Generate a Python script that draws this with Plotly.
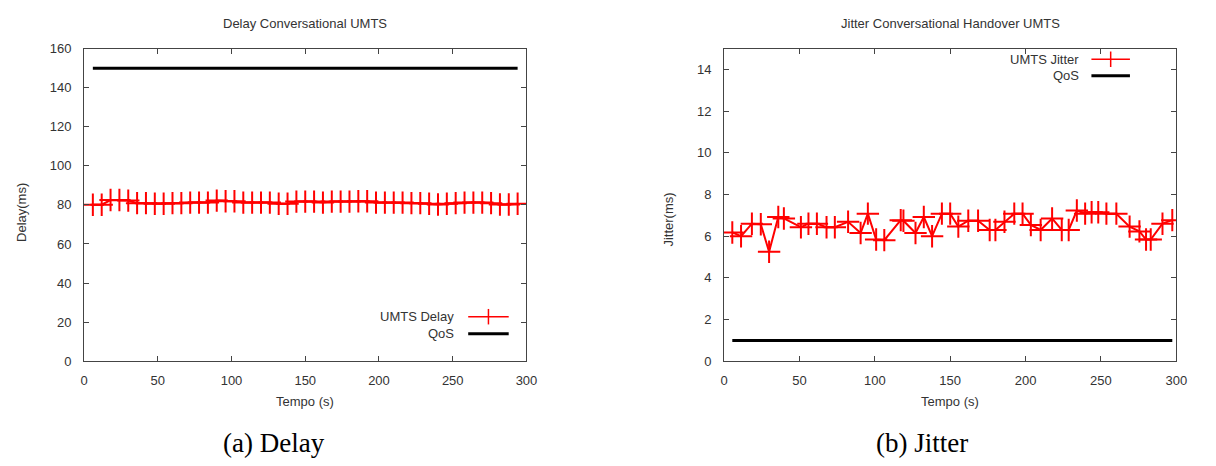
import plotly.graph_objects as go

# ---------------- data ----------------
delay_t = [6, 12, 18, 24, 30, 36, 42, 48, 54, 60, 66, 72, 78, 84, 90, 96, 102, 108,
           114, 120, 126, 132, 138, 144, 150, 156, 162, 168, 174, 180, 186, 192, 198,
           204, 210, 216, 222, 228, 234, 240, 246, 252, 258, 264, 270, 276, 282, 288, 294]
delay_ms = [80.1, 80.1, 82.5, 82.5, 82.2, 80.9, 80.9, 80.6, 80.6, 80.9, 80.9, 81.2, 81.2,
            81.2, 82.2, 81.9, 81.9, 81.2, 81.2, 81.2, 81.2, 80.6, 80.6, 81.7, 81.7, 81.7,
            81.2, 81.7, 81.7, 81.7, 81.9, 81.9, 81.2, 81.2, 81.2, 81.2, 80.9, 80.9, 80.6,
            80.2, 80.6, 80.9, 81.2, 81.2, 81.2, 80.9, 80.2, 80.2, 80.6]
delay_qos_t = [6, 294]
delay_qos = [150, 150]

jitter_t = [5.5, 11.3, 18.5, 24.4, 29.9, 36.0, 39.7, 51.0, 56.0, 61.6, 68.0, 73.5, 82.3,
            90.6, 95.4, 100.9, 106.3, 117.2, 119.0, 127.0, 132.5, 138.0, 144.5, 150.0,
            155.4, 162.0, 168.5, 176.2, 180.0, 186.0, 192.5, 198.0, 203.5, 210.0, 217.6,
            224.0, 228.6, 234.0, 239.5, 243.8, 248.2, 253.6, 260.2, 269.0, 275.5, 279.9,
            283.0, 290.8, 297.3]
jitter_ms = [6.18, 6.0, 6.6, 6.57, 5.25, 6.92, 6.85, 6.43, 6.6, 6.6, 6.43, 6.43, 6.69,
             6.15, 7.08, 5.84, 5.81, 6.77, 6.74, 6.15, 6.92, 6.0, 7.08, 7.08, 6.46, 6.74,
             6.74, 6.3, 6.3, 6.69, 7.08, 7.08, 6.54, 6.3, 6.85, 6.3, 6.3, 7.23, 7.08, 7.15,
             7.15, 7.08, 7.08, 6.46, 6.23, 5.84, 5.84, 6.6, 6.77]
jitter_qos_t = [5.5, 297.3]
jitter_qos = [1, 1]

titles = ["Delay Conversational UMTS", "Jitter Conversational Handover UMTS"]
captions = ["(a) Delay", "(b) Jitter"]
x_title = "Tempo (s)"
y_titles = ["Delay(ms)", "Jitter(ms)"]
legend_names = [["UMTS Delay", "QoS"], ["UMTS Jitter", "QoS"]]

# ---------------- figure ----------------
W, H = 1216, 466
RED = "#ff0000"
TXT = "#333333"
FONT = "Liberation Sans, Arial, sans-serif"
FS = 13


def px(x, y):
    """window pixel -> paper coords"""
    return x / W, (H - y) / H


fig = go.Figure()

fig.add_trace(go.Scatter(x=delay_t, y=delay_ms, mode="lines+markers", xaxis="x", yaxis="y",
                         line=dict(color=RED, width=2),
                         marker=dict(symbol="cross-thin", size=16, line=dict(color=RED, width=2)),
                         showlegend=False))
fig.add_trace(go.Scatter(x=delay_qos_t, y=delay_qos, mode="lines", xaxis="x", yaxis="y",
                         line=dict(color="black", width=3), showlegend=False))
fig.add_trace(go.Scatter(x=jitter_t, y=jitter_ms, mode="lines+markers", xaxis="x2", yaxis="y2",
                         line=dict(color=RED, width=2),
                         marker=dict(symbol="cross-thin", size=16, line=dict(color=RED, width=2)),
                         showlegend=False))
fig.add_trace(go.Scatter(x=jitter_qos_t, y=jitter_qos, mode="lines", xaxis="x2", yaxis="y2",
                         line=dict(color="black", width=3), showlegend=False))

ydom = [px(0, 366)[1], px(0, 43)[1]]
axis_common = dict(showline=True, linecolor="#444444", linewidth=1, mirror="ticks",
                   ticks="inside", ticklen=5, tickcolor="#444444", showgrid=False,
                   zeroline=False, tickfont=dict(family=FONT, size=FS, color=TXT))

fig.update_layout(
    width=W, height=H, margin=dict(l=0, r=0, t=0, b=0),
    paper_bgcolor="white", plot_bgcolor="white",
    showlegend=False,
    xaxis=dict(domain=[px(81, 0)[0], px(529, 0)[0]], range=[0, 300], dtick=50, anchor="y",
               ticklabelstandoff=7, **axis_common),
    yaxis=dict(domain=ydom, range=[0, 160], dtick=20, anchor="x",
               ticklabelstandoff=9, **axis_common),
    xaxis2=dict(domain=[px(729, 0)[0], px(1187, 0)[0]], range=[0, 300], dtick=50, anchor="y2",
                ticklabelstandoff=7, **axis_common),
    yaxis2=dict(domain=ydom, range=[0, 15], tickvals=[0, 2, 4, 6, 8, 10, 12, 14], anchor="x2",
                ticklabelstandoff=9, **axis_common),
)

annotations = []
# chart titles
for cx, t in zip([305, 958], titles):
    x, y = px(cx, 17)
    annotations.append(dict(x=x, y=y, xref="paper", yref="paper", text=t, showarrow=False,
                            xanchor="center", yanchor="middle",
                            font=dict(family=FONT, size=FS, color=TXT)))
# x-axis titles
for cx in [305, 958]:
    x, y = px(cx, 408)
    annotations.append(dict(x=x, y=y, xref="paper", yref="paper", text=x_title, showarrow=False,
                            xanchor="center", yanchor="middle",
                            font=dict(family=FONT, size=FS, color=TXT)))
# y-axis titles
for (cx, cy), t in zip([(17, 212), (673, 220)], y_titles):
    x, y = px(cx, cy)
    annotations.append(dict(x=x, y=y, xref="paper", yref="paper", text=t, showarrow=False,
                            textangle=-90, xanchor="center", yanchor="middle",
                            font=dict(family=FONT, size=FS, color=TXT)))
# sub-figure captions
for cx, t in zip([273, 929], captions):
    x, y = px(cx, 451)
    annotations.append(dict(x=x, y=y, xref="paper", yref="paper", text=t, showarrow=False,
                            xanchor="center", yanchor="middle",
                            font=dict(family="Liberation Serif, Times New Roman, serif", size=27,
                                      color="black")))

# custom gnuplot-style legends (text then sample)
shapes = []
legend_specs = [
    (458, 320, 337.5, 470, 511, legend_names[0]),
    (1090, 54, 71, 1101, 1140, legend_names[1]),
]
for tx, y1, y2, sx0, sx1, names in legend_specs:
    for yy, name in zip([y1, y2], names):
        x, y = px(tx, yy)
        annotations.append(dict(x=x, y=y, xref="paper", yref="paper", text=name,
                                showarrow=False, xanchor="right", yanchor="middle",
                                font=dict(family=FONT, size=FS, color=TXT)))
    a0 = px(sx0, y1)
    a1 = px(sx1, y1)
    shapes.append(dict(type="line", xref="paper", yref="paper", x0=a0[0], y0=a0[1],
                       x1=a1[0], y1=a1[1], line=dict(color=RED, width=1.5)))
    mx = (sx0 + sx1) / 2
    v0 = px(mx, y1 - 8)
    v1 = px(mx, y1 + 8)
    shapes.append(dict(type="line", xref="paper", yref="paper", x0=v0[0], y0=v0[1],
                       x1=v1[0], y1=v1[1], line=dict(color=RED, width=1.5)))
    b0 = px(sx0, y2)
    b1 = px(sx1, y2)
    shapes.append(dict(type="line", xref="paper", yref="paper", x0=b0[0], y0=b0[1],
                       x1=b1[0], y1=b1[1], line=dict(color="black", width=3)))

fig.update_layout(annotations=annotations, shapes=shapes)

fig.write_html(
    "out.html",
    config={"displayModeBar": False},
    post_script="document.body.style.margin='0';document.body.style.overflow='hidden';",
)
